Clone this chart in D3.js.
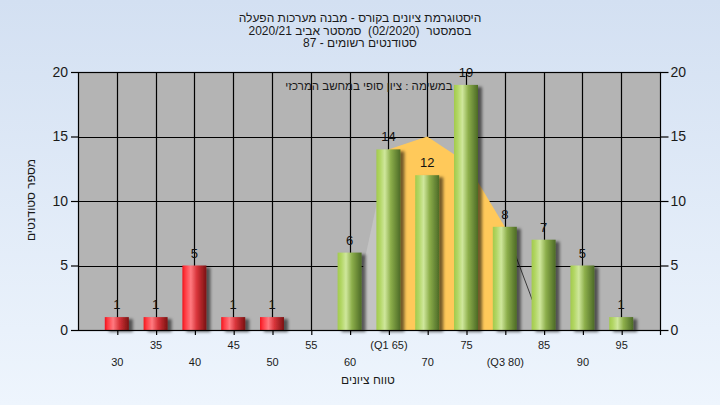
<!DOCTYPE html>
<html><head><meta charset="utf-8">
<script src="https://cdn.jsdelivr.net/npm/d3@7"></script>
<style>
html,body{margin:0;padding:0;}
svg{display:block;font-family:"Liberation Sans",Arial,sans-serif;}
.pre{white-space:pre;}
</style></head>
<body>
<svg id="c" width="720" height="405"></svg>
<script>
const categories = [30,35,40,45,50,55,60,65,70,75,80,85,90,95];
const counts = [1,1,5,1,1,0,6,14,12,19,8,7,5,1];
const tickLabels = ["30","35","40","45","50","55","60","(Q1 65)","70","75","(Q3 80)","85","90","95"];
const curveX = [60,65,70,75,80,85];
const curveY = [0,14,15,13,8,0];
const yTicks = [0,5,10,15,20];
const passGrade = 55;
const titleLines = ["היסטוגרמת ציונים בקורס - מבנה מערכות הפעלה","בסמסטר  (02/2020)  סמסטר אביב 2020/21","סטודנטים רשומים - 87"];
const seriesLabel = "במשימה : ציון סופי במחשב המרכזי";
const xTitle = "טווח ציונים";
const yTitle = "מספר סטודנטים";

const svg = d3.select("#c");
const W=720,H=405;
const L=78,R=660,T=72,B=330;
const x = d3.scaleLinear().domain([25,100]).range([L,R]);
const y = d3.scaleLinear().domain([0,20]).range([B,T]);

const defs = svg.append("defs");
const bg = defs.append("linearGradient").attr("id","bg").attr("x1",0).attr("y1",0).attr("x2",0).attr("y2",1);
bg.append("stop").attr("offset","0%").attr("stop-color","#d3e0f2");
bg.append("stop").attr("offset","100%").attr("stop-color","#eef5fd");
function barGrad(id, stops){
  const g = defs.append("linearGradient").attr("id",id).attr("x1",0).attr("y1",0).attr("x2",1).attr("y2",0);
  stops.forEach(s=>g.append("stop").attr("offset",s[0]).attr("stop-color",s[1]));
}
barGrad("red",[["0%","#f0141c"],["12%","#ff3a42"],["35%","#ff7a80"],["60%","#d8343a"],["100%","#7a1212"]]);
barGrad("green",[["0%","#a2ca4c"],["15%","#b2d664"],["35%","#cfe79c"],["60%","#8cae4a"],["100%","#4c6a26"]]);
const f = defs.append("filter").attr("id","sh").attr("x","-20%").attr("y","-10%").attr("width","160%").attr("height","130%");
f.append("feDropShadow").attr("dx",4).attr("dy",2).attr("stdDeviation",1.8).attr("flood-color","#000").attr("flood-opacity",0.55);

svg.append("rect").attr("width",W).attr("height",H).attr("fill","url(#bg)");

// titles
svg.append("g").selectAll("text").data(titleLines).join("text")
  .attr("class","pre")
  .attr("x",360).attr("y",(d,i)=>22+i*12.5)
  .attr("text-anchor","middle").attr("direction","rtl")
  .attr("font-size",12).attr("fill","#1a1a1a").text(d=>d);

// plot area
svg.append("rect").attr("x",L).attr("y",T).attr("width",R-L).attr("height",B-T).attr("fill","#b4b4b4");

// gridlines
const grid = svg.append("g").attr("stroke","#000").attr("stroke-width",1.2);
grid.selectAll(".v").data(categories).join("line")
  .attr("x1",d=>Math.round(x(d))+0.5).attr("x2",d=>Math.round(x(d))+0.5).attr("y1",T).attr("y2",B);
grid.selectAll(".h").data(yTicks.filter(t=>t>0&&t<20)).join("line")
  .attr("x1",L).attr("x2",R).attr("y1",d=>Math.round(y(d))+0.5).attr("y2",d=>Math.round(y(d))+0.5);

// curve areas
const pts = curveX.map((cx,i)=>[cx,curveY[i]]);
const area = d3.area().x(d=>x(d[0])).y0(y(0)).y1(d=>y(d[1]));
svg.append("path").datum(pts.slice(0,2)).attr("d",area).attr("fill","#c3c3c3");
svg.append("path").datum(pts.slice(1,5)).attr("d",area).attr("fill","#ffc95a");
svg.append("path").datum(pts.slice(4,6)).attr("d",d3.line().x(d=>x(d[0])).y(d=>y(d[1])))
  .attr("fill","none").attr("stroke","#3a3a3a").attr("stroke-width",1);

// series label
svg.append("text").attr("x",369).attr("y",90).attr("text-anchor","middle").attr("direction","rtl")
  .attr("font-size",11.5).attr("fill","#1a1a1a").text(seriesLabel);

// bars
const bw = 24;
const data = categories.map((c,i)=>({c,v:counts[i]}));
svg.append("g").attr("filter","url(#sh)").selectAll("rect").data(data.filter(d=>d.v>0)).join("rect")
  .attr("x",d=>x(d.c)-bw/2).attr("width",bw)
  .attr("y",d=>y(d.v)).attr("height",d=>y(0)-y(d.v))
  .attr("fill",d=>d.c<passGrade?"url(#red)":"url(#green)");

// value labels
svg.append("g").selectAll("text").data(data.filter(d=>d.v>0)).join("text")
  .attr("x",d=>x(d.c)).attr("y",d=>y(d.v)-8)
  .attr("text-anchor","middle").attr("font-size",13).attr("fill","#111")
  .text(d=>d.v);

// border
svg.append("rect").attr("x",L+0.5).attr("y",T+0.5).attr("width",R-L).attr("height",B-T)
  .attr("fill","none").attr("stroke","#000").attr("stroke-width",1.2);

// axes
function styleAxis(g){
  g.select(".domain").remove();
  g.selectAll(".tick line").attr("stroke","#000").attr("stroke-width",1.2);
  g.selectAll("text").attr("fill","#1a1a1a").attr("font-family","\"Liberation Sans\",Arial,sans-serif");
}
const yl = svg.append("g").attr("transform",`translate(${L},0)`)
  .call(d3.axisLeft(y).tickValues(yTicks).tickSize(7).tickPadding(3));
styleAxis(yl); yl.selectAll("text").attr("font-size",14);
const yr = svg.append("g").attr("transform",`translate(${R+0.5},0)`)
  .call(d3.axisRight(y).tickValues(yTicks).tickSize(8).tickPadding(2));
styleAxis(yr); yr.selectAll("text").attr("font-size",14);
const xb = svg.append("g").attr("transform",`translate(0,${B})`)
  .call(d3.axisBottom(x).tickValues(categories).tickFormat((d,i)=>tickLabels[i]).tickSize(5).tickPadding(3));
styleAxis(xb);
xb.selectAll(".tick line").attr("transform",d=>"translate(0.5,0)");
xb.selectAll("text").attr("font-size",11).attr("dy",null)
  .attr("y",(d,i)=>i%2===1?19:36);
svg.append("line").attr("x1",R+0.5).attr("x2",R+0.5).attr("y1",B).attr("y2",B+5).attr("stroke","#000").attr("stroke-width",1.2);

// axis titles
svg.append("text").attr("x",368).attr("y",384).attr("text-anchor","middle").attr("direction","rtl")
  .attr("font-size",12).attr("fill","#1a1a1a").text(xTitle);
svg.append("text").attr("transform","translate(35,200) rotate(-90)").attr("text-anchor","middle").attr("direction","rtl")
  .attr("font-size",12).attr("fill","#1a1a1a").text(yTitle);
</script>
</body></html>
